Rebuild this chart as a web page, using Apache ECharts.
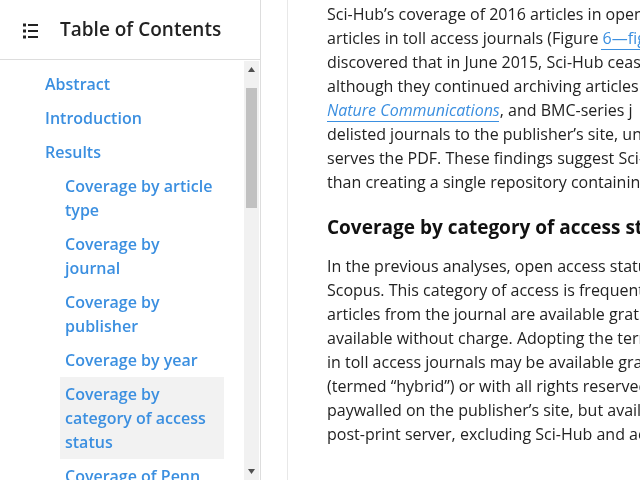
<!DOCTYPE html>
<html><head><meta charset="utf-8">
<script src="https://cdn.jsdelivr.net/npm/echarts@6/dist/echarts.min.js"></script>
<style>html,body{margin:0;padding:0;background:#fff}#c{width:640px;height:480px}</style>
</head><body><div id="c"></div>
<script>
var tocTitle = "Table of Contents";
var tocItems = [
  {lines:["Abstract"], indent:0},
  {lines:["Introduction"], indent:0},
  {lines:["Results"], indent:0},
  {lines:["Coverage by article","type"], indent:1},
  {lines:["Coverage by","journal"], indent:1},
  {lines:["Coverage by","publisher"], indent:1},
  {lines:["Coverage by year"], indent:1},
  {lines:["Coverage by","category of access","status"], indent:1, active:true},
  {lines:["Coverage of Penn"], indent:1}
];
var para1 = [
  "Sci-Hub’s coverage of 2016 articles in open",
  "articles in toll access journals (Figure {l|6—fig}",
  "discovered that in June 2015, Sci-Hub ceas",
  "although they continued archiving articles",
  "{i|Nature Communications}, and BMC-series j",
  "delisted journals to the publisher’s site, un",
  "serves the PDF. These findings suggest Sci-",
  "than creating a single repository containin"
];
var heading = "Coverage by category of access sta";
var para2 = [
  "In the previous analyses, open access statu",
  "Scopus. This category of access is frequent",
  "articles from the journal are available grat",
  "available without charge. Adopting the tern",
  "in toll access journals may be available gra",
  "(termed “hybrid”) or with all rights reserved",
  "paywalled on the publisher’s site, but avail",
  "post-print server, excluding Sci-Hub and ac"
];
var F = "'Open Sans', sans-serif";
var blue = "#3b8fe0", txt = "#222";
var g = [];
g.push({type:'line',shape:{x1:260.5,y1:0,x2:260.5,y2:480},style:{stroke:'#ddd',lineWidth:1}});
g.push({type:'line',shape:{x1:287.5,y1:0,x2:287.5,y2:480},style:{stroke:'#e8e8e8',lineWidth:1}});
g.push({type:'line',shape:{x1:0,y1:59.5,x2:260,y2:59.5},style:{stroke:'#ddd',lineWidth:1}});
[25,31,37].forEach(function(y){
  g.push({type:'rect',shape:{x:23,y:y-1.5,width:3,height:3},style:{fill:'#222'}});
  g.push({type:'rect',shape:{x:28,y:y-1,width:10,height:2},style:{fill:'#222'}});
});
g.push({type:'text',x:60,y:31,style:{text:tocTitle,font:"600 19px "+F,fill:'#222',verticalAlign:'middle'}});
g.push({type:'rect',shape:{x:244,y:61,width:15,height:419},style:{fill:'#f1f1f1'}});
g.push({type:'rect',shape:{x:246,y:88,width:11,height:120},style:{fill:'#c1c1c1'}});
g.push({type:'polygon',shape:{points:[[248,72],[255,72],[251.5,67]]},style:{fill:'#505050'}});
g.push({type:'polygon',shape:{points:[[248,469],[255,469],[251.5,474]]},style:{fill:'#505050'}});
var y = 85;
tocItems.forEach(function(it){
  var x = it.indent ? 65 : 45;
  if (it.active) g.push({type:'rect',z:-1,shape:{x:60,y:y-18,width:164,height:it.lines.length*24+10},style:{fill:'#f2f2f2'}});
  it.lines.forEach(function(l){
    g.push({type:'text',x:x,y:y,style:{text:l,font:"600 16px "+F,fill:blue,verticalAlign:'middle'}});
    y += 24;
  });
  y += 10;
});
var rich = {l:{fill:blue,font:"16px "+F},i:{fill:blue,font:"italic 16px "+F}};
para1.forEach(function(l,i){
  g.push({type:'text',x:327,y:15+i*24,style:{text:l,rich:rich,font:"16px "+F,fill:txt,verticalAlign:'middle'}});
});
g.push({type:'line',shape:{x1:601,y1:49.5,x2:640,y2:49.5},style:{stroke:blue,lineWidth:1}});
g.push({type:'line',shape:{x1:327,y1:121.5,x2:499,y2:121.5},style:{stroke:blue,lineWidth:1}});
g.push({type:'text',x:327,y:229,style:{text:heading,font:"bold 19px "+F,fill:'#111',verticalAlign:'middle'}});
para2.forEach(function(l,i){
  g.push({type:'text',x:327,y:267+i*24,style:{text:l,font:"16px "+F,fill:txt,verticalAlign:'middle'}});
});
var chart = echarts.init(document.getElementById('c'));
chart.setOption({animation:false,graphic:{elements:g}});
</script></body></html>
